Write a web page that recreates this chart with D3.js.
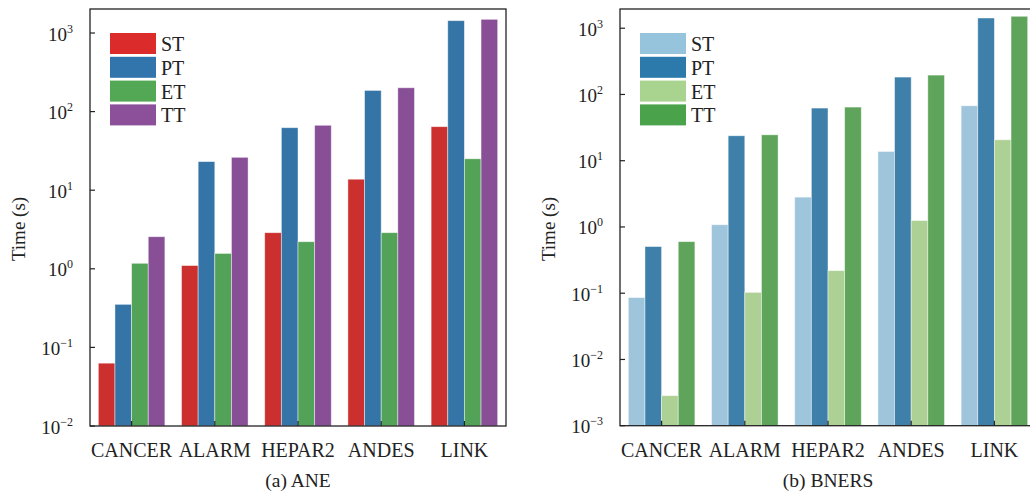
<!DOCTYPE html>
<html>
<head>
<meta charset="utf-8">
<script src="https://cdn.jsdelivr.net/npm/d3@7"></script>
<style>
  body { margin: 0; background: #fff; }
  svg text { font-family: "Liberation Serif", "Times New Roman", serif; fill: #222; }
</style>
</head>
<body>
<svg id="chart" width="1030" height="495"></svg>
<script>
// categories and series
const categories = ["CANCER", "ALARM", "HEPAR2", "ANDES", "LINK"];
const seriesNames = ["ST", "PT", "ET", "TT"];

// (a) ANE times (s)
const aneST = [0.063, 1.10, 2.88, 13.8, 64.3];
const anePT = [0.353, 23.1, 62.4, 186, 1435];
const aneET = [1.175, 1.57, 2.21, 2.88, 25.1];
const aneTT = [2.56, 26.2, 67.0, 201, 1493];

// (b) BNERS times (s)
const bnersST = [0.086, 1.08, 2.82, 13.8, 67.5];
const bnersPT = [0.506, 23.8, 62.3, 183, 1426];
const bnersET = [0.00284, 0.103, 0.219, 1.25, 20.7];
const bnersTT = [0.60, 24.6, 64.5, 196, 1514];

// y tick exponents
const aneExps = [-2, -1, 0, 1, 2, 3];
const bnersExps = [-3, -2, -1, 0, 1, 2, 3];

// legend patches are a bit brighter than the bars
const aneLegend = ["#db2b2b", "#3275ad", "#52a855", "#8c509b"];
const aneBars = ["#cb302e", "#3574a6", "#52a357", "#894f96"];
const bnersLegend = ["#96c4dd", "#2c79ab", "#a8d490", "#4aa34b"];
const bnersBars = ["#9fc5dc", "#3e80aa", "#add094", "#5ea45a"];

const svg = d3.select("#chart");
svg.append("rect").attr("width", 1030).attr("height", 495).attr("fill", "#fff");

function drawPanel(opts) {
    const { left, right, top, bottom, yMin, yMax, exps, series, barColors, legendColors, caption } = opts;
    const g = svg.append("g");

    const x0 = d3.scaleBand().domain(categories).range([left, right])
        .paddingInner(0.2).paddingOuter(0.1);
    const x1 = d3.scaleBand().domain(seriesNames).range([0, x0.bandwidth()]);
    const y = d3.scaleLog().domain([yMin, yMax]).range([bottom, top]);

    // bars
    seriesNames.forEach((s, si) => {
        g.append("g").selectAll("rect")
            .data(series[si].map((v, i) => ({ cat: categories[i], v })))
            .join("rect")
            .attr("x", d => x0(d.cat) + x1(s))
            .attr("y", d => y(d.v))
            .attr("width", x1.bandwidth())
            .attr("height", d => bottom - y(d.v))
            .attr("fill", barColors[si])
            .attr("stroke", "#fff")
            .attr("stroke-opacity", 0.55)
            .attr("stroke-width", 0.8);
    });

    // frame
    g.append("rect")
        .attr("x", left).attr("y", top)
        .attr("width", right - left).attr("height", bottom - top)
        .attr("fill", "none").attr("stroke", "#222").attr("stroke-width", 1.3);

    // y ticks (inward)
    exps.forEach(e => {
        const ty = y(Math.pow(10, e));
        g.append("line")
            .attr("x1", left).attr("x2", left + 5)
            .attr("y1", ty).attr("y2", ty)
            .attr("stroke", "#222").attr("stroke-width", 1.2);
        const t = g.append("text")
            .attr("x", left - 17).attr("y", ty + 7.5)
            .attr("text-anchor", "end")
            .attr("font-size", "19px");
        t.append("tspan").text("10");
        t.append("tspan")
            .attr("font-size", "12px")
            .attr("dy", -8)
            .text(e < 0 ? "\u2212" + Math.abs(e) : String(e));
    });

    // x ticks (inward) and labels
    categories.forEach(c => {
        const cx = x0(c) + x0.bandwidth() / 2;
        g.append("line")
            .attr("x1", cx).attr("x2", cx)
            .attr("y1", bottom).attr("y2", bottom - 5)
            .attr("stroke", "#222").attr("stroke-width", 1.2);
        g.append("text")
            .attr("x", cx).attr("y", bottom + 31)
            .attr("text-anchor", "middle")
            .attr("font-size", "20px")
            .text(c);
    });

    // y label
    g.append("text")
        .attr("transform", `translate(${left - 65},229) rotate(-90)`)
        .attr("text-anchor", "middle")
        .attr("font-size", "19px")
        .text("Time (s)");

    // caption
    g.append("text")
        .attr("x", (left + right) / 2).attr("y", 487)
        .attr("text-anchor", "middle")
        .attr("font-size", "19.5px")
        .text(caption);

    // legend
    const leg = g.append("g").attr("transform", `translate(${left + 20},33)`);
    seriesNames.forEach((s, i) => {
        leg.append("rect")
            .attr("x", 0).attr("y", i * 23.8)
            .attr("width", 46).attr("height", 21)
            .attr("fill", legendColors[i]);
        leg.append("text")
            .attr("x", 51).attr("y", i * 23.8 + 18)
            .attr("font-size", "20px")
            .text(s);
    });
}

drawPanel({
    left: 90, right: 506, top: 9, bottom: 426,
    yMin: 0.01, yMax: 2020, exps: aneExps,
    series: [aneST, anePT, aneET, aneTT],
    barColors: aneBars, legendColors: aneLegend,
    caption: "(a) ANE"
});

drawPanel({
    left: 620, right: 1036, top: 9, bottom: 425.7,
    yMin: 0.001, yMax: 1950, exps: bnersExps,
    series: [bnersST, bnersPT, bnersET, bnersTT],
    barColors: bnersBars, legendColors: bnersLegend,
    caption: "(b) BNERS"
});
</script>
</body>
</html>
